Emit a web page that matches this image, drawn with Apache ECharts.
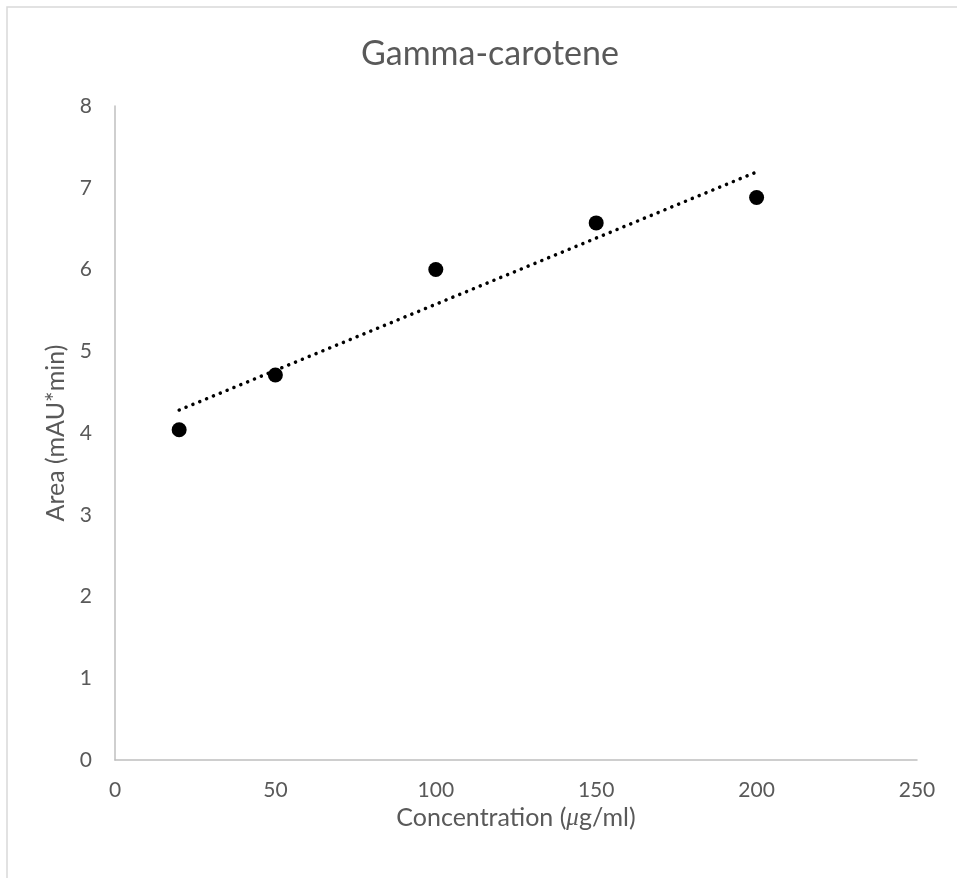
<!DOCTYPE html>
<html>
<head>
<meta charset="utf-8">
<script src="https://cdn.jsdelivr.net/npm/echarts@6/dist/echarts.min.js"></script>
<style>
  html, body { margin: 0; padding: 0; background: #fff; }
  #chart { width: 957px; height: 878px; }
</style>
</head>
<body>
<div id="chart"></div>
<script>
// concentration (µg/ml) vs peak area
const concentrations = [20, 50, 100, 150, 200]
const areas = [4.04, 4.71, 6.0, 6.57, 6.88]
const yTicks = [0, 1, 2, 3, 4, 5, 6, 7, 8]
const xTicks = [0, 50, 100, 150, 200, 250]

// linear trendline (least squares), like the spreadsheet one
function fitLine(xs, ys) {
    const n = xs.length
    const mx = xs.reduce((a, b) => a + b, 0) / n
    const my = ys.reduce((a, b) => a + b, 0) / n
    let sxy = 0, sxx = 0
    for (let i = 0; i < n; i++) {
        sxy += (xs[i] - mx) * (ys[i] - my)
        sxx += (xs[i] - mx) ** 2
    }
    const slope = sxy / sxx
    return { slope, intercept: my - slope * mx }
}
const fit = fitLine(concentrations, areas)
const xMin = Math.min(...concentrations)
const xMax = Math.max(...concentrations)
const trend = [
    [xMin, fit.intercept + fit.slope * xMin],
    [xMax, fit.intercept + fit.slope * xMax]
]

const textColor = '#595959'
const axisColor = '#bfbfbf'
const font = 'Lato, "Open Sans", sans-serif'

const chart = echarts.init(document.getElementById('chart'))
chart.setOption({
    animation: false,
    backgroundColor: '#fff',
    title: {
        text: 'Gamma-carotene',
        left: 356,
        top: 32,
        textStyle: { color: textColor, fontSize: 34, fontWeight: 'normal', fontFamily: font }
    },
    graphic: [{
        type: 'rect',
        shape: { x: 7, y: 7, width: 1200, height: 1200 },
        style: { fill: 'none', stroke: '#d9d9d9', lineWidth: 1.5 },
        silent: true
    }],
    grid: { left: 115, right: 40, top: 106, bottom: 118 },
    xAxis: {
        type: 'value',
        min: xTicks[0],
        max: xTicks[xTicks.length - 1],
        interval: 50,
        name: 'Concentration ({i|μ}g/ml)',
        nameLocation: 'middle',
        nameGap: 32,
        nameTextStyle: {
            color: textColor, fontSize: 25, fontFamily: font,
            rich: { i: { fontStyle: 'italic', color: textColor, fontSize: 25, fontFamily: 'serif' } }
        },
        axisLine: { show: true, lineStyle: { color: axisColor, width: 1.5 } },
        axisTick: { show: false },
        splitLine: { show: false },
        axisLabel: { color: textColor, fontSize: 21, fontFamily: font, margin: 20 }
    },
    yAxis: {
        type: 'value',
        min: yTicks[0],
        max: yTicks[yTicks.length - 1],
        interval: 1,
        name: 'Area (mAU*min)',
        nameLocation: 'middle',
        nameGap: 43,
        nameTextStyle: { color: textColor, fontSize: 25, fontFamily: font },
        axisLine: { show: true, lineStyle: { color: axisColor, width: 1.5 } },
        axisTick: { show: false },
        splitLine: { show: false },
        axisLabel: { color: textColor, fontSize: 21, fontFamily: font, margin: 23 }
    },
    series: [
        {
            type: 'line',
            data: trend,
            symbol: 'none',
            silent: true,
            lineStyle: { color: '#000', width: 3.5, type: [0.1, 7.3], cap: 'round' }
        },
        {
            type: 'scatter',
            data: concentrations.map((c, i) => [c, areas[i]]),
            symbol: 'circle',
            symbolSize: 15,
            itemStyle: { color: '#000', opacity: 1 }
        }
    ]
})
</script>
</body>
</html>
